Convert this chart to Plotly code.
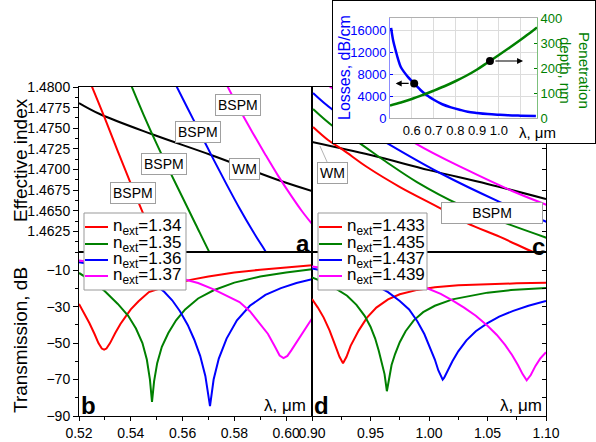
import plotly.graph_objects as go

FONT = "Liberation Sans, Arial, sans-serif"
RED, GREEN, BLUE, MAG = "#ff0000", "#008000", "#0000ff", "#ff00ff"

# ---------------- Panel a: effective index, n_ext 1.34-1.37 ----------------
a_wm_lambda = [0.520, 0.528, 0.548, 0.571, 0.598, 0.610]
a_wm_neff = [1.47806, 1.47673, 1.47430, 1.47176, 1.46861, 1.46740]
a_red_lambda = [0.5240, 0.5300, 0.5350, 0.5400, 0.5450, 0.5500, 0.5520]
a_red_neff = [1.4808, 1.4762, 1.4722, 1.4683, 1.4645, 1.4607, 1.4592]
a_green_lambda = [0.5395, 0.5450, 0.5500, 0.5550, 0.5600, 0.5650, 0.5700, 0.5720]
a_green_neff = [1.4807, 1.4766, 1.4731, 1.4698, 1.4666, 1.4634, 1.4602, 1.4590]
a_blue_lambda = [0.5570, 0.5620, 0.5670, 0.5720, 0.5770, 0.5820, 0.5870, 0.5920, 0.5940]
a_blue_neff = [1.4805, 1.4774, 1.4743, 1.4712, 1.4682, 1.4653, 1.4626, 1.4601, 1.4591]
a_mag_lambda = [0.5765, 0.5820, 0.5870, 0.5920, 0.5970, 0.6020, 0.6060, 0.6100]
a_mag_neff = [1.4806, 1.4773, 1.4745, 1.4718, 1.4692, 1.4668, 1.4650, 1.4634]

# ---------------- Panel b: transmission, n_ext 1.34-1.37 ----------------
b_red_lambda = [0.5200, 0.5220, 0.5240, 0.5260, 0.5275, 0.5288, 0.5297, 0.5306, 0.5320, 0.5340,
                0.5360, 0.5380, 0.5400, 0.5430, 0.5470, 0.5520, 0.5570, 0.5630, 0.5700, 0.5800,
                0.5900, 0.6000, 0.6100]
b_red_db = [-28.5, -33.5, -39.0, -45.0, -50.0, -53.0, -53.6, -53.0, -50.0, -44.5,
            -39.5, -35.5, -31.5, -27.0, -22.0, -19.6, -17.5, -15.3, -13.5, -11.3,
            -9.7, -8.4, -7.3]
b_green_lambda = [0.5200, 0.5250, 0.5300, 0.5350, 0.5390, 0.5420, 0.5445, 0.5462, 0.5474, 0.5482,
                  0.5490, 0.5502, 0.5520, 0.5545, 0.5575, 0.5610, 0.5660, 0.5720, 0.5800, 0.5900,
                  0.6000, 0.6100]
b_green_db = [-11.5, -16.0, -21.5, -28.5, -35.0, -42.0, -50.0, -59.0, -70.0, -82.3,
              -71.0, -61.0, -52.0, -44.5, -37.5, -31.5, -25.5, -21.0, -16.8, -13.5,
              -11.2, -9.5]
b_blue_lambda = [0.5200, 0.5250, 0.5300, 0.5350, 0.5400, 0.5450, 0.5500, 0.5530, 0.5560, 0.5590,
                 0.5620, 0.5645, 0.5668, 0.5688, 0.5706, 0.5720, 0.5740, 0.5770, 0.5810, 0.5860,
                 0.5920, 0.5980, 0.6040, 0.6100]
b_blue_db = [-5.6, -6.6, -8.0, -9.8, -12.0, -14.8, -18.5, -22.0, -26.5, -32.5,
             -40.0, -48.0, -57.0, -68.0, -84.6, -70.0, -58.5, -47.5, -37.5, -29.5,
             -23.5, -19.8, -17.0, -15.0]
b_mag_lambda = [0.5200, 0.5300, 0.5400, 0.5500, 0.5600, 0.5660, 0.5720, 0.5770, 0.5820, 0.5860,
                0.5900, 0.5930, 0.5955, 0.5975, 0.5990, 0.6005, 0.6020, 0.6040, 0.6060, 0.6080,
                0.6100]
b_mag_db = [-4.7, -6.3, -8.3, -11.0, -14.5, -17.0, -20.5, -24.0, -27.5, -32.5,
            -39.5, -45.0, -51.5, -56.8, -58.2, -57.0, -54.0, -49.5, -45.0, -40.5,
            -36.5]

# ---------------- Panel c: effective index, n_ext 1.433-1.439 ----------------
c_wm_lambda = [0.90, 0.95, 1.00, 1.05, 1.10]
c_wm_neff = [1.43533, 1.43470, 1.43397, 1.43330, 1.43257]
c_red_lambda = [0.9009, 0.9137, 0.9265, 0.9470, 0.9752, 1.0094, 1.0325, 1.0607, 1.0889, 1.1000]
c_red_neff = [1.43606, 1.43543, 1.43495, 1.43412, 1.43315, 1.43213, 1.43140, 1.43073, 1.43000, 1.42975]
c_green_lambda = [0.9009, 0.9179, 0.9393, 0.9624, 0.9897, 1.0265, 1.0607, 1.1009]
c_green_neff = [1.43693, 1.43610, 1.43533, 1.43441, 1.43339, 1.43228, 1.43150, 1.43068]
c_blue_lambda = [0.9009, 0.9179, 0.9641, 1.0094, 1.0607, 1.1009]
c_blue_neff = [1.43771, 1.43689, 1.43528, 1.43383, 1.43242, 1.43145]
c_mag_lambda = [0.9000, 0.9171, 0.9880, 1.0325, 1.0752, 1.1009]
c_mag_neff = [1.43860, 1.43795, 1.43528, 1.43398, 1.43286, 1.43228]

# ---------------- Panel d: transmission, n_ext 1.433-1.439 ----------------
d_red_lambda = [0.900, 0.905, 0.910, 0.915, 0.920, 0.9235, 0.9265, 0.9295, 0.933, 0.940,
                0.947, 0.955, 0.965, 0.975, 0.990, 1.005, 1.025, 1.050, 1.075, 1.100]
d_red_db = [-25.8, -30.5, -36.0, -43.0, -51.5, -57.5, -61.0, -57.5, -51.5, -43.0,
            -36.0, -30.5, -26.0, -23.2, -20.8, -19.3, -18.3, -17.6, -17.2, -16.9]
d_green_lambda = [0.900, 0.910, 0.920, 0.930, 0.938, 0.945, 0.950, 0.954, 0.957, 0.960,
                  0.962, 0.964, 0.966, 0.968, 0.971, 0.975, 0.980, 0.987, 0.995, 1.005,
                  1.020, 1.035, 1.050, 1.070, 1.100]
d_green_db = [-14.0, -16.5, -20.0, -24.0, -29.0, -35.0, -41.0, -47.5, -54.0, -61.0,
              -67.0, -76.4, -68.0, -62.0, -56.0, -49.5, -43.5, -37.5, -33.0, -29.5,
              -26.0, -24.0, -22.3, -20.9, -19.7]
d_blue_lambda = [0.900, 0.920, 0.940, 0.955, 0.965, 0.975, 0.983, 0.990, 0.996, 1.001,
                 1.005, 1.008, 1.0105, 1.0117, 1.013, 1.016, 1.020, 1.025, 1.032, 1.040,
                 1.050, 1.060, 1.072, 1.085, 1.100]
d_blue_db = [-9.0, -11.5, -15.0, -18.5, -22.0, -26.9, -31.5, -38.0, -45.0, -52.5,
             -59.0, -65.0, -69.0, -70.0, -69.0, -65.0, -60.0, -54.5, -48.5, -43.5,
             -39.0, -35.5, -32.3, -29.5, -26.9]
d_mag_lambda = [0.900, 0.930, 0.960, 0.985, 0.998, 1.010, 1.020, 1.030, 1.040, 1.050,
                1.058, 1.065, 1.071, 1.076, 1.080, 1.0835, 1.087, 1.091, 1.095, 1.100]
d_mag_db = [-8.0, -10.5, -14.5, -18.0, -19.8, -23.0, -26.5, -30.5, -35.0, -40.5,
            -45.5, -51.0, -56.5, -62.0, -67.0, -70.4, -67.5, -62.5, -58.5, -55.0]

# ---------------- Inset: losses and penetration depth ----------------
loss_lambda = [0.505, 0.515, 0.526, 0.537, 0.549, 0.565, 0.583, 0.600, 0.611, 0.625, 0.640, 0.657,
               0.680, 0.703, 0.740, 0.780, 0.820, 0.857, 0.900, 0.949, 1.000, 1.041, 1.100, 1.170]
losses = [16400, 14000, 12300, 10700, 9330, 8350, 7450, 6750, 6300, 5700, 5100, 4490,
          3850, 3270, 2500, 1940, 1500, 1150, 930, 730, 590, 500, 430, 370]
depth_lambda = [0.50, 0.55, 0.60, 0.65, 0.70, 0.75, 0.80, 0.85, 0.90, 0.95, 1.00, 1.05, 1.10, 1.15, 1.175]
depth = [50, 62, 76, 92, 109, 127, 147, 169, 194, 223, 252, 282, 313, 345, 362]
loss_dot_lambda = [0.611]
loss_dot = [6300]
depth_dot_lambda = [0.959]
depth_dot = [228]

legend_left = ["1.34", "1.35", "1.36", "1.37"]
legend_right = ["1.433", "1.435", "1.437", "1.439"]
colors = [RED, GREEN, BLUE, MAG]

fig = go.Figure()


def line(x, y, color, xa, ya, width=2, name=None, shape="linear"):
    fig.add_trace(go.Scatter(
        x=x, y=y, mode="lines", line=dict(color=color, width=width, shape=shape),
        xaxis=xa, yaxis=ya, name=name, showlegend=False, hoverinfo="skip"))


# panel a
line(a_wm_lambda, a_wm_neff, "black", "x", "y", name="WM", shape="spline")
for lx, ly, c in zip([a_red_lambda, a_green_lambda, a_blue_lambda, a_mag_lambda],
                     [a_red_neff, a_green_neff, a_blue_neff, a_mag_neff], colors):
    line(lx, ly, c, "x", "y", name="BSPM", shape="spline")

# panel b
for lx, ly, c, lab in zip([b_red_lambda, b_green_lambda, b_blue_lambda, b_mag_lambda],
                          [b_red_db, b_green_db, b_blue_db, b_mag_db], colors, legend_left):
    line(lx, ly, c, "x2", "y2", name="n<sub>ext</sub>=" + lab)

# panel c
line(c_wm_lambda, c_wm_neff, "black", "x3", "y3", name="WM", shape="spline")
for lx, ly, c in zip([c_red_lambda, c_green_lambda, c_blue_lambda, c_mag_lambda],
                     [c_red_neff, c_green_neff, c_blue_neff, c_mag_neff], colors):
    line(lx, ly, c, "x3", "y3", name="BSPM", shape="spline")

# panel d
for lx, ly, c, lab in zip([d_red_lambda, d_green_lambda, d_blue_lambda, d_mag_lambda],
                          [d_red_db, d_green_db, d_blue_db, d_mag_db], colors, legend_right):
    line(lx, ly, c, "x4", "y4", name="n<sub>ext</sub>=" + lab)

# empty backdrop subplot for the inset frame (hides panel c under the inset)
fig.add_trace(go.Scatter(x=[None], y=[None], mode="lines", xaxis="x5", yaxis="y5",
                         showlegend=False, hoverinfo="skip"))

# inset
line(loss_lambda, losses, BLUE, "x6", "y6", width=2.5, name="Losses", shape="spline")
line(depth_lambda, depth, GREEN, "x6", "y7", width=2.5, name="Penetration depth", shape="spline")
fig.add_trace(go.Scatter(x=loss_dot_lambda, y=loss_dot, mode="markers", xaxis="x6", yaxis="y6",
                         marker=dict(color="black", size=8), showlegend=False, hoverinfo="skip"))
fig.add_trace(go.Scatter(x=depth_dot_lambda, y=depth_dot, mode="markers", xaxis="x6", yaxis="y7",
                         marker=dict(color="black", size=8), showlegend=False, hoverinfo="skip"))

W, H = 596, 442


def px(xp):
    return xp / W


def py(yp):
    return 1 - yp / H


XL = [px(79), px(312)]
XR = [px(312), px(546)]
YT = [py(252), py(87)]
YB = [py(416), py(252)]

tick_font = dict(family=FONT, size=14, color="black")
common = dict(showline=True, linecolor="black", linewidth=1, mirror=True, showgrid=False,
              zeroline=False, tickcolor="black", fixedrange=True, automargin=False)

fig.update_layout(
    template="none",
    width=W, height=H, margin=dict(l=0, r=0, t=0, b=0, autoexpand=False),
    paper_bgcolor="white", plot_bgcolor="white", hovermode=False, showlegend=False,
    font=dict(family=FONT, size=14, color="black"),
    xaxis=dict(domain=XL, anchor="y", range=[0.52, 0.61], showticklabels=False, ticks="", **common),
    yaxis=dict(domain=YT, anchor="x", range=[1.46, 1.48],
               tickvals=[1.4625, 1.4650, 1.4675, 1.4700, 1.4725, 1.4750, 1.4775, 1.4800],
               tickformat=".4f", ticks="outside", ticklen=5, tickfont=tick_font,
               minor=dict(ticks="outside", ticklen=3, dtick=0.00125, tick0=1.46, tickcolor="black"),
               **common),
    xaxis2=dict(domain=XL, anchor="y2", range=[0.52, 0.61],
                tickvals=[0.52, 0.54, 0.56, 0.58, 0.60], tickformat=".2f",
                ticks="outside", ticklen=4, tickfont=tick_font,
                minor=dict(ticks="outside", ticklen=3, dtick=0.01, tick0=0.52, tickcolor="black"),
                **common),
    yaxis2=dict(domain=YB, anchor="x2", range=[-90, 0], tickvals=[-90, -70, -50, -30, -10],
                ticks="outside", ticklen=5, tickfont=tick_font,
                minor=dict(ticks="outside", ticklen=3, dtick=10, tick0=0, tickcolor="black"),
                **common),
    xaxis3=dict(domain=XR, anchor="y3", range=[0.90, 1.10], showticklabels=False, ticks="", **common),
    yaxis3=dict(domain=YT, anchor="x3", side="right", range=[1.430, 1.438], dtick=0.001,
                ticks="inside", ticklen=4, showticklabels=False, **common),
    xaxis4=dict(domain=XR, anchor="y4", range=[0.90, 1.10],
                tickvals=[0.90, 0.95, 1.00, 1.05, 1.10], tickformat=".2f",
                ticks="outside", ticklen=4, tickfont=tick_font,
                minor=dict(ticks="outside", ticklen=3, dtick=0.025, tick0=0.9, tickcolor="black"),
                **common),
    yaxis4=dict(domain=YB, anchor="x4", side="right", range=[-90, 0], dtick=10,
                ticks="inside", ticklen=4, showticklabels=False, **common),
    # inset backdrop box (covers panel c underneath)
    xaxis5=dict(domain=[px(333), px(595)], anchor="y5", range=[0, 1], showticklabels=False,
                ticks="", **common),
    yaxis5=dict(domain=[py(143), py(1)], anchor="x5", range=[0, 1], showticklabels=False,
                ticks="", **common),
    # inset plot
    xaxis6=dict(domain=[px(390), px(537)], anchor="y6", range=[0.5, 1.175],
                tickvals=[0.5, 0.6, 0.7, 0.8, 0.9, 1.0, 1.1],
                ticktext=["", "0.6", "0.7", "0.8", "0.9", "1.0", ""],
                showgrid=True, gridcolor="#dcdcdc", gridwidth=1, ticks="", showline=True,
                linecolor="#b0b0b0", mirror=True, zeroline=False, fixedrange=True, automargin=False,
                tickfont=dict(family=FONT, size=13, color="black")),
    yaxis6=dict(domain=[py(118), py(18)], anchor="x6", range=[0, 18200], tickformat="d",
                tickvals=[0, 4000, 8000, 12000, 16000], showgrid=True, gridcolor="#dcdcdc",
                ticks="inside", ticklen=3, tickcolor=BLUE, showline=True, linecolor="#8c8cff",
                zeroline=False, fixedrange=True, automargin=False,
                tickfont=dict(family=FONT, size=13, color=BLUE)),
    yaxis7=dict(overlaying="y6", anchor="x6", side="right", range=[0, 400], dtick=100,
                showgrid=False, ticks="inside", ticklen=3, tickcolor=GREEN, showline=True,
                linecolor="#7cc07c", zeroline=False, fixedrange=True, automargin=False,
                tickfont=dict(family=FONT, size=13, color=GREEN)),
)

ann = []
shapes = []


def text(x, y, t, size=14, color="black", angle=0, xanchor="center", **kw):
    ann.append(dict(x=x, y=y, xref="paper", yref="paper", text=t, showarrow=False,
                    font=dict(family=FONT, size=size, color=color), textangle=angle,
                    xanchor=xanchor, yanchor="middle", **kw))


text(px(20), py(160), "Effective index", size=19, angle=-90)
text(px(20), py(340), "Transmission, dB", size=19, angle=-90)
text(px(303), py(243), "<b>a</b>", size=24)
text(px(538), py(246), "<b>c</b>", size=24)
text(px(88), py(405), "<b>b</b>", size=24)
text(px(321), py(405), "<b>d</b>", size=24)
text(px(285), py(405), "λ, μm", size=17)
text(px(521), py(405), "λ, μm", size=17)
text(px(537), py(132), "λ, μm", size=15)
text(px(344), py(68), "Losses, dB/cm", size=16, color=BLUE, angle=-90)
text(px(575), py(70), "Penetration<br>depth, nm", size=15, color=GREEN, angle=90)

# legends (frame, swatches and labels), one per column
LEG_ROWS = [227, 244, 260, 276]
for (x0, x1, sw0, sw1, tx, labels) in [(84, 186, 85, 108, 111, legend_left),
                                      (318, 427, 319, 342, 345, legend_right)]:
    shapes.append(dict(type="rect", xref="paper", yref="paper", x0=px(x0), x1=px(x1),
                       y0=py(290), y1=py(213), fillcolor="white",
                       line=dict(color="#999999", width=1), layer="above"))
    for r, c, lab in zip(LEG_ROWS, colors, labels):
        shapes.append(dict(type="line", xref="paper", yref="paper", x0=px(sw0), x1=px(sw1),
                           y0=py(r), y1=py(r), line=dict(color=c, width=2), layer="above"))
        text(px(tx), py(r), "n<sub>ext</sub>=" + lab, size=17, xanchor="left")

box = dict(showarrow=False, bgcolor="white", bordercolor="#a0a0a0", borderwidth=1, borderpad=2,
           font=dict(family=FONT, size=14, color="black"))
for (bx, by, t) in [(0.5409, 1.4672, "BSPM"), (0.5528, 1.4707, "BSPM"), (0.5660, 1.4745, "BSPM"),
                    (0.5814, 1.4778, "BSPM"), (0.5841, 1.4701, "WM")]:
    ann.append(dict(x=bx, y=by, xref="x", yref="y", text=t, **box))
ann.append(dict(x=1.0538, y=1.43189, xref="x3", yref="y3", text="BSPM", width=96, **box))
ann.append(dict(x=0.9068, y=1.43514, xref="x3", yref="y3", ax=0.9171, ay=1.43383,
                axref="x3", ayref="y3", text="WM", showarrow=True, arrowhead=0,
                arrowwidth=0.8, arrowcolor="#a0a0a0", bgcolor="white", bordercolor="#a0a0a0",
                borderwidth=1, borderpad=2, font=dict(family=FONT, size=14, color="black")))
# inset arrows from the dots
ann.append(dict(x=0.526, y=loss_dot[0], xref="x6", yref="y6", ax=loss_dot_lambda[0], ay=loss_dot[0],
                axref="x6", ayref="y6", text="", showarrow=True, arrowhead=2, arrowsize=1,
                arrowwidth=1.2, arrowcolor="black", startstandoff=4))
ann.append(dict(x=1.111, y=depth_dot[0], xref="x6", yref="y7", ax=depth_dot_lambda[0], ay=depth_dot[0],
                axref="x6", ayref="y7", text="", showarrow=True, arrowhead=2, arrowsize=1,
                arrowwidth=1.2, arrowcolor="black", startstandoff=4))
fig.update_layout(annotations=ann, shapes=shapes)

# remove the browser's default page margin so the figure sits at the window's top-left corner
fig.write_html("out.html", config={"displayModeBar": False},
               post_script="document.body.style.margin='0px';document.body.style.padding='0px';")
